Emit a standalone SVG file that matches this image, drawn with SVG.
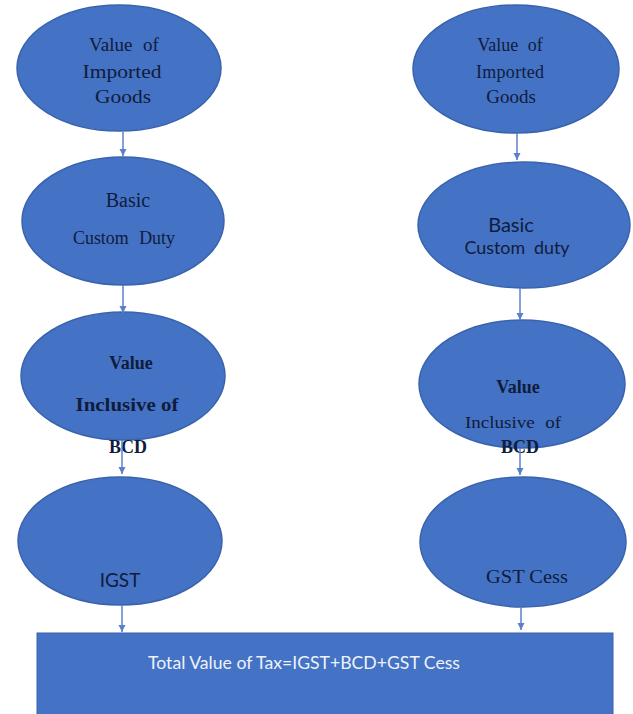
<svg xmlns="http://www.w3.org/2000/svg" width="633" height="714" viewBox="0 0 633 714">
<defs>
<style>
.node ellipse{fill:#4472C4;stroke:#3a63ad;stroke-width:1.5}
.box{fill:#4472C4;stroke:#3a63ad;stroke-width:1}
.serif{font-family:"Liberation Serif","Times New Roman",serif;fill:#101c3c;text-anchor:middle}
.sans{font-family:Lato,"Liberation Sans",sans-serif;fill:#101c3c;text-anchor:middle}
.conn line{stroke:#5a80cc;stroke-width:1.5}
.white{font-family:Lato,"Liberation Sans",sans-serif;fill:#eef2fa;text-anchor:middle}
</style>
<marker id="ah" viewBox="0 0 10 10" refX="10" refY="5" markerWidth="5" markerHeight="5" orient="auto" markerUnits="strokeWidth">
<path d="M0,0 L10,5 L0,10 z" fill="#5a80cc"/>
</marker>
</defs>
<rect width="633" height="714" fill="#ffffff"/>

<g id="total">
<rect class="box" x="37" y="633" width="576" height="90"/>
<text class="white" x="304" y="669" font-size="17" textLength="312" lengthAdjust="spacingAndGlyphs">Total Value of Tax=IGST+BCD+GST Cess</text>
</g>

<g id="l-imported" class="node">
<ellipse cx="119" cy="68" rx="102" ry="63"/>
<text class="serif" x="124" y="51" font-size="19" word-spacing="6">Value of</text>
<text class="serif" x="122" y="78" font-size="19" textLength="79" lengthAdjust="spacingAndGlyphs">Imported</text>
<text class="serif" x="123" y="103" font-size="19" textLength="56" lengthAdjust="spacingAndGlyphs">Goods</text>
</g>
<g id="l-bcd" class="node">
<ellipse cx="123" cy="221" rx="101" ry="64"/>
<text class="serif" x="128" y="207" font-size="20">Basic</text>
<text class="serif" x="124" y="244" font-size="18" textLength="102" lengthAdjust="spacingAndGlyphs" word-spacing="6">Custom Duty</text>
</g>
<g id="l-value" class="node">
<ellipse cx="123" cy="376" rx="102" ry="64"/>
<text class="serif" x="131" y="369" font-size="18" font-weight="bold">Value</text>
<text class="serif" x="127" y="411" font-size="18" font-weight="bold" textLength="103" lengthAdjust="spacingAndGlyphs">Inclusive of</text>
<text class="serif" x="128" y="453" font-size="18" font-weight="bold">BCD</text>
</g>
<g id="l-igst" class="node">
<ellipse cx="120" cy="541" rx="102" ry="64"/>
<text class="sans" x="120" y="587" font-size="19">IGST</text>
</g>

<g id="r-imported" class="node">
<ellipse cx="516" cy="69" rx="103" ry="64"/>
<text class="serif" x="510" y="51" font-size="18" word-spacing="5">Value of</text>
<text class="serif" x="510" y="78" font-size="18" textLength="68" lengthAdjust="spacing">Imported</text>
<text class="serif" x="511" y="103" font-size="19">Goods</text>
</g>
<g id="r-bcd" class="node">
<ellipse cx="524" cy="225" rx="106" ry="63"/>
<text class="sans" x="511" y="232" font-size="20">Basic</text>
<text class="sans" x="517" y="254" font-size="17" word-spacing="4" textLength="105" lengthAdjust="spacingAndGlyphs">Custom duty</text>
</g>
<g id="r-value" class="node">
<ellipse cx="522" cy="384" rx="103" ry="64"/>
<text class="serif" x="518" y="393" font-size="18" font-weight="bold">Value</text>
<text class="serif" x="513" y="428" font-size="17" word-spacing="5" textLength="96" lengthAdjust="spacingAndGlyphs">Inclusive of</text>
<text class="serif" x="520" y="453" font-size="18" font-weight="bold">BCD</text>
</g>
<g id="r-cess" class="node">
<ellipse cx="523" cy="542" rx="103" ry="65"/>
<text class="serif" x="527" y="583" font-size="19" textLength="82" lengthAdjust="spacingAndGlyphs">GST Cess</text>
</g>

<g id="connectors" class="conn">
<line x1="123" y1="132" x2="123" y2="156" marker-end="url(#ah)"/>
<line x1="123" y1="285" x2="123" y2="313" marker-end="url(#ah)"/>
<line x1="122" y1="440" x2="122" y2="474" marker-end="url(#ah)"/>
<line x1="122" y1="605" x2="122" y2="632" marker-end="url(#ah)"/>
<line x1="517" y1="133" x2="517" y2="160" marker-end="url(#ah)"/>
<line x1="520" y1="288" x2="520" y2="320" marker-end="url(#ah)"/>
<line x1="520" y1="448" x2="520" y2="475" marker-end="url(#ah)"/>
<line x1="521" y1="607" x2="521" y2="630" marker-end="url(#ah)"/>
</g>
</svg>
